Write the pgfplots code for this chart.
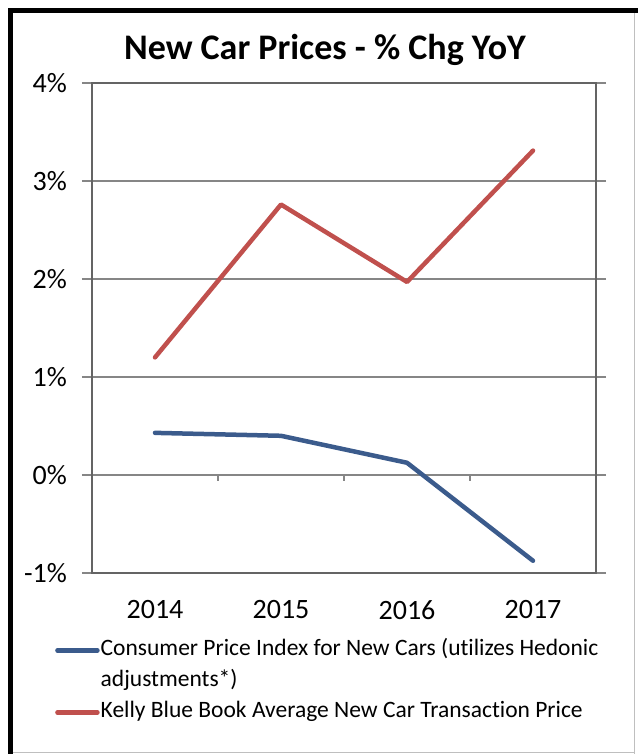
\documentclass[border=0pt]{standalone}
\usepackage{fontspec}
\setmainfont[Ligatures=NoCommon]{Carlito}
\usepackage{pgfplots}
\pgfplotsset{compat=1.18}
\definecolor{cpiblue}{RGB}{59,91,140}
\definecolor{kbbred}{RGB}{192,80,77}
\definecolor{gridgray}{RGB}{134,134,134}
\definecolor{boxgray}{RGB}{100,100,100}
\begin{document}
\begin{tikzpicture}
\begin{axis}[
 name=ax, at={(0pt,0pt)}, anchor=south west, width=504pt, height=490pt, scale only axis,
 xmin=0.5, xmax=4.5, ymin=-1, ymax=4,
 xtick={1,2,3,4}, xticklabels={2014,2015,2016,2017},
 x tick style={draw=none},
 ytick={-1,0,1,2,3,4}, yticklabels={-1\%,0\%,1\%,2\%,3\%,4\%},
 ymajorgrids, grid style={gridgray, line width=1.2pt},
 axis line style={draw=boxgray, line width=1.2pt},
 tick align=outside, major tick length=10pt,
 y tick style={gridgray, line width=1.2pt},
 tick label style={font=\fontsize{28}{32}\selectfont},
 yticklabel style={anchor=east, inner sep=0pt, xshift=-15pt},
 xticklabel style={anchor=north, inner sep=0pt, yshift=-17pt},
 legend style={at={(-0.0734,-0.126)}, anchor=north west, draw=none, fill=none,
   font=\fontsize{23.5}{27}\selectfont, inner sep=0pt, row sep=0pt,
   nodes={inner xsep=1pt, inner ysep=4pt, text height=17pt, text depth=6pt}},
 legend cell align=left,
 legend image code/.code={\draw[#1] (0pt,0pt) -- (40pt,0pt);},
]
\addplot[cpiblue, line width=4.5pt, line join=round, line cap=round] coordinates {(1,0.43) (2,0.40) (3,0.125) (4,-0.875)};
\addlegendentry{Consumer Price Index for New Cars (utilizes Hedonic}
\addlegendimage{empty legend}
\addlegendentry{adjustments*)}
\addplot[kbbred, line width=4.5pt, line join=round, line cap=round] coordinates {(1,1.20) (2,2.76) (3,1.97) (4,3.31)};
\addlegendentry{Kelly Blue Book Average New Car Transaction Price}
\draw[gridgray, line width=1.2pt] (axis cs:1.5,0) -- ([yshift=-6pt]axis cs:1.5,0);
\draw[gridgray, line width=1.2pt] (axis cs:2.5,0) -- ([yshift=-6pt]axis cs:2.5,0);
\draw[gridgray, line width=1.2pt] (axis cs:3.5,0) -- ([yshift=-6pt]axis cs:3.5,0);
\end{axis}
\coordinate (O) at ([shift={(-92pt,-181pt)}]ax.south west);
\path[use as bounding box] (O) rectangle ([shift={(638pt,754pt)}]O);
\begin{scope}[shift={(O)}, x=1pt, y=1pt]
\draw[gray!50, line width=1pt] (634,0) -- (634,743);
\draw[gray!50, line width=1pt] (10,1.5) -- (634,1.5);
\draw[black, line width=5pt] (10.5,0) -- (10.5,743.5) -- (638,743.5);
\node[font=\fontsize{36}{40}\selectfont\bfseries, anchor=base] at (325,694) {New Car Prices - \% Chg YoY};
\end{scope}
\end{tikzpicture}
\end{document}
